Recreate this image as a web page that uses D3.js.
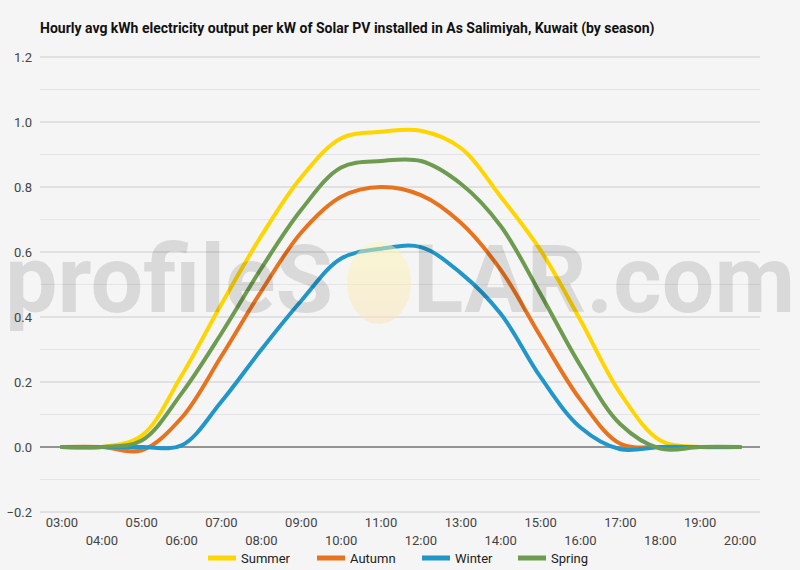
<!DOCTYPE html>
<html>
<head>
<meta charset="utf-8">
<script src="https://cdn.jsdelivr.net/npm/d3@7"></script>
<style>
  html, body { margin: 0; padding: 0; background: #f5f5f5; }
  svg { display: block; font-family: Roboto, "Noto Sans", sans-serif; }
</style>
</head>
<body>
<div id="chart"></div>
<script>
(function() {
  const width = 800
  const height = 570
  const margin = {top: 57, right: 40, bottom: 58, left: 40}

  // hours of the day shown on the x axis
  const hours = [3, 4, 5, 6, 7, 8, 9, 10, 11, 12, 13, 14, 15, 16, 17, 18, 19, 20]
  const seasons = ['Summer', 'Autumn', 'Winter', 'Spring']
  const colors = ['#ffd500', '#e8731f', '#2196c9', '#6d9b4f']

  // kWh per kW
  const summer = [0, 0, 0.035, 0.22, 0.44, 0.65, 0.83, 0.95, 0.97, 0.973, 0.92, 0.77, 0.605, 0.39, 0.165, 0.02, 0, 0]
  const autumn = [0, 0, -0.01, 0.09, 0.28, 0.48, 0.66, 0.77, 0.80, 0.775, 0.69, 0.545, 0.34, 0.145, 0.01, 0, 0, 0]
  const winter = [0, 0, 0, 0.005, 0.14, 0.3, 0.45, 0.58, 0.61, 0.615, 0.535, 0.41, 0.215, 0.06, -0.007, 0, 0, 0]
  const spring = [0, 0, 0.02, 0.165, 0.35, 0.55, 0.73, 0.86, 0.88, 0.88, 0.81, 0.68, 0.47, 0.25, 0.07, -0.005, 0, 0]
  const series = [summer, autumn, winter, spring]

  const yTicks = [-0.2, 0, 0.2, 0.4, 0.6, 0.8, 1.0, 1.2]
  const yMinor = [-0.1, 0.1, 0.3, 0.5, 0.7, 0.9, 1.1]

  const svg = d3.select('#chart').append('svg')
      .attr('width', width)
      .attr('height', height)

  svg.append('rect')
      .attr('width', width)
      .attr('height', height)
      .attr('fill', '#f5f5f5')

  const x = d3.scaleLinear()
      .domain([2.45, 20.5])
      .range([margin.left, width - margin.right])
  const y = d3.scaleLinear()
      .domain([-0.2, 1.2])
      .range([height - margin.bottom, margin.top])

  svg.append('text')
      .attr('x', 40)
      .attr('y', 33)
      .attr('font-size', 14)
      .attr('font-weight', 'bold')
      .attr('fill', '#111')
      .text('Hourly avg kWh electricity output per kW of Solar PV installed in As Salimiyah, Kuwait (by season)')

  // grid
  const grid = svg.append('g')
  grid.selectAll('line.minor')
    .data(yMinor)
    .enter().append('line')
      .attr('x1', margin.left)
      .attr('x2', width - margin.right)
      .attr('y1', d => y(d))
      .attr('y2', d => y(d))
      .attr('stroke', '#e4e4e4')
  grid.selectAll('line.major')
    .data(yTicks)
    .enter().append('line')
      .attr('x1', margin.left)
      .attr('x2', width - margin.right)
      .attr('y1', d => y(d))
      .attr('y2', d => y(d))
      .attr('stroke', d => d === 0 ? '#333' : '#cccccc')

  const line = d3.line()
      .x((d, i) => x(hours[i]))
      .y(d => y(d))
      .curve(d3.curveCatmullRom.alpha(0.5))

  svg.append('g')
      .attr('fill', 'none')
      .attr('stroke-width', 4)
      .attr('stroke-linejoin', 'round')
      .attr('stroke-linecap', 'round')
    .selectAll('path')
    .data(series)
    .enter().append('path')
      .attr('stroke', (d, i) => colors[i])
      .attr('d', line)

  // watermark
  const defs = svg.append('defs')
  const grad = defs.append('linearGradient')
      .attr('id', 'sun')
      .attr('x1', 0).attr('y1', 0).attr('x2', 0).attr('y2', 1)
  grad.append('stop').attr('offset', '0%').attr('stop-color', '#fbf7b0')
  grad.append('stop').attr('offset', '100%').attr('stop-color', '#fbe2b8')

  const wm = svg.append('g').attr('pointer-events', 'none')
  wm.append('ellipse')
      .attr('cx', 379)
      .attr('cy', 283)
      .attr('rx', 32)
      .attr('ry', 41)
      .attr('fill', 'url(#sun)')
      .attr('opacity', 0.5)
  wm.append('text')
      .attr('x', 5)
      .attr('y', 312)
      .attr('font-size', 94)
      .attr('font-weight', 'bold')
      .attr('textLength', 328)
      .attr('lengthAdjust', 'spacingAndGlyphs')
      .attr('fill', '#000')
      .attr('opacity', 0.11)
      .text('profileS')
  wm.append('text')
      .attr('x', 413)
      .attr('y', 312)
      .attr('font-size', 94)
      .attr('font-weight', 'bold')
      .attr('textLength', 382)
      .attr('lengthAdjust', 'spacingAndGlyphs')
      .attr('fill', '#000')
      .attr('opacity', 0.11)
      .text('LAR.com')

  // y axis labels
  svg.append('g')
      .attr('font-size', 13)
      .attr('fill', '#444')
      .attr('text-anchor', 'end')
    .selectAll('text')
    .data(yTicks)
    .enter().append('text')
      .attr('x', 32)
      .attr('y', d => y(d))
      .attr('dy', '0.35em')
      .text(d => d3.format('.1f')(d))

  // x axis labels, staggered on two rows
  svg.append('g')
      .attr('font-size', 13)
      .attr('fill', '#444')
      .attr('text-anchor', 'middle')
    .selectAll('text')
    .data(hours)
    .enter().append('text')
      .attr('x', d => x(d))
      .attr('y', d => d % 2 === 1 ? 527 : 545)
      .text(d => d3.format('02d')(d) + ':00')

  // legend
  const legendX = [208, 317, 422, 518]
  const legend = svg.append('g')
      .attr('font-size', 13)
      .attr('fill', '#222')
    .selectAll('g')
    .data(seasons)
    .enter().append('g')
      .attr('transform', (d, i) => `translate(${legendX[i]},558)`)
  legend.append('rect')
      .attr('x', 0)
      .attr('y', -2.5)
      .attr('width', 28)
      .attr('height', 5)
      .attr('fill', (d, i) => colors[i])
  legend.append('text')
      .attr('x', 33)
      .attr('dy', '0.35em')
      .text(d => d)
})()
</script>
</body>
</html>
